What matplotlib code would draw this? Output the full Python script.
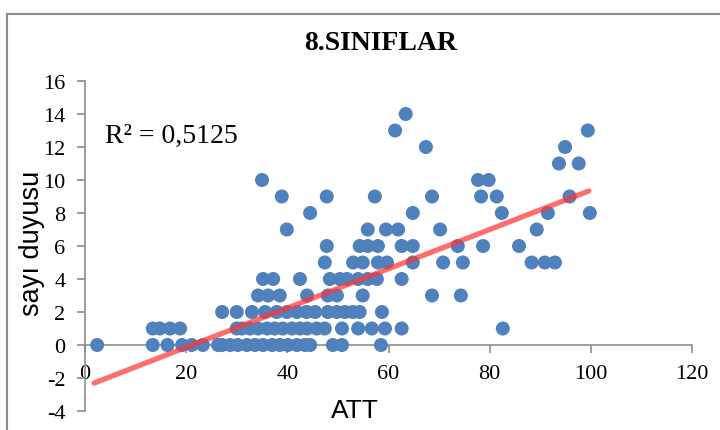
import numpy as np
import matplotlib
matplotlib.use("Agg")
import matplotlib.pyplot as plt
from matplotlib.lines import Line2D

# ---- data ----
att_y0 = [2.4, 13.4, 16.3, 19.2, 21.1, 23.3, 26.3, 27.1, 28.7, 30.2, 32.0, 33.6, 35.2,
          37.0, 38.5, 40.1, 41.9, 43.5, 44.5, 49.0, 50.8, 58.5]
att_y1 = [13.4, 14.8, 16.8, 18.8, 30.0, 31.0, 32.6, 34.2, 36.0, 37.5, 39.1, 40.9, 42.5,
          43.9, 45.8, 47.4, 50.8, 54.0, 56.7, 59.3, 62.6, 82.6]
att_y2 = [27.1, 30.0, 33.0, 35.6, 37.9, 39.9, 41.9, 43.8, 45.5, 48.0, 49.8, 51.4, 53.0,
          54.3, 58.7]
att_y3 = [34.2, 36.2, 38.5, 43.9, 48.0, 49.8, 54.9, 68.6, 74.3]
att_y4 = [35.2, 37.2, 42.5, 48.4, 50.4, 51.8, 54.0, 55.9, 57.7, 62.6]
att_y5 = [47.4, 53.0, 54.9, 57.9, 59.7, 64.8, 70.8, 74.7, 88.3, 90.9, 92.9]
att_y6 = [47.8, 54.3, 55.9, 57.9, 62.6, 64.8, 73.7, 78.7, 85.8]
att_y7 = [39.9, 55.9, 59.5, 61.9, 70.2, 89.3]
att_y8 = [44.5, 64.8, 82.4, 91.5, 99.8]
att_y9 = [38.9, 47.8, 57.3, 68.6, 78.3, 81.4, 95.8]
att_y10 = [35.0, 77.7, 79.8]
att_y11 = [93.7, 97.6]
att_y12 = [67.4, 94.9]
att_y13 = [61.3, 99.4]
att_y14 = [63.4]

rows = [att_y0, att_y1, att_y2, att_y3, att_y4, att_y5, att_y6, att_y7,
        att_y8, att_y9, att_y10, att_y11, att_y12, att_y13, att_y14]
att = np.concatenate([np.array(r, dtype=float) for r in rows])
sayi = np.concatenate([np.full(len(r), float(i)) for i, r in enumerate(rows)])

# linear trendline as shown in the reference (slope, intercept)
trend_slope = 0.119
trend_intercept = -2.52
trend_x = [1.8, 99.6]

x_ticks = [0, 20, 40, 60, 80, 100, 120]
y_ticks = [-4, -2, 0, 2, 4, 6, 8, 10, 12, 14, 16]
title = "8.SINIFLAR"
r2_text = "R² = 0,5125"

# ---- figure ----
plt.rcParams['axes.unicode_minus'] = False
fig = plt.figure(figsize=(7.2, 4.31), dpi=100)
ax = fig.add_axes([85/720, 1-412/431, 607/720, 330/431])

ax.scatter(att, sayi, s=102, color='#4F81BD', edgecolors='none', zorder=3)

tx = np.array(trend_x)
ax.plot(tx, trend_slope * tx + trend_intercept, color='#FF3535', alpha=0.72, lw=3.8,
        solid_capstyle='round', zorder=4)

ax.set_xlim(0, 120)
ax.set_ylim(-4, 16)
ax.set_xticks(x_ticks)
ax.set_yticks(y_ticks)

for s in ['top', 'right']:
    ax.spines[s].set_visible(False)
ax.spines['bottom'].set_position(('data', 0))
for s in ['left', 'bottom']:
    ax.spines[s].set_color('#8C8C8C')
    ax.spines[s].set_linewidth(1.2)

ax.tick_params(axis='both', direction='out', length=6, width=1.2, color='#8C8C8C',
               labelsize=16, pad=8)
for lab in ax.get_xticklabels() + ax.get_yticklabels():
    lab.set_fontfamily('Liberation Serif')

ax.set_xlabel('ATT', fontfamily='Liberation Sans', fontsize=19)
ax.xaxis.set_label_coords(0.445, 0.038)
ax.set_ylabel('sayı duyusu', fontfamily='Liberation Sans', fontsize=19.5)
ax.yaxis.set_label_coords(-0.066, 0.51)

ax.text(105/720, 1-136/431, r2_text, transform=fig.transFigure, ha='left', va='center',
        fontfamily='Liberation Serif', fontsize=20)
fig.text(381/720, 1-43/431, title, ha='center', va='center',
         fontfamily='Liberation Serif', fontweight='bold', fontsize=20)

# chart border (top and left visible)
fig.add_artist(Line2D([7/720, 7/720], [0, 1-15/431], transform=fig.transFigure,
                      color='#8C8C8C', lw=1.5))
fig.add_artist(Line2D([7/720, 1], [1-15/431, 1-15/431], transform=fig.transFigure,
                      color='#8C8C8C', lw=1.5))

fig.savefig('out.png', dpi=100)
